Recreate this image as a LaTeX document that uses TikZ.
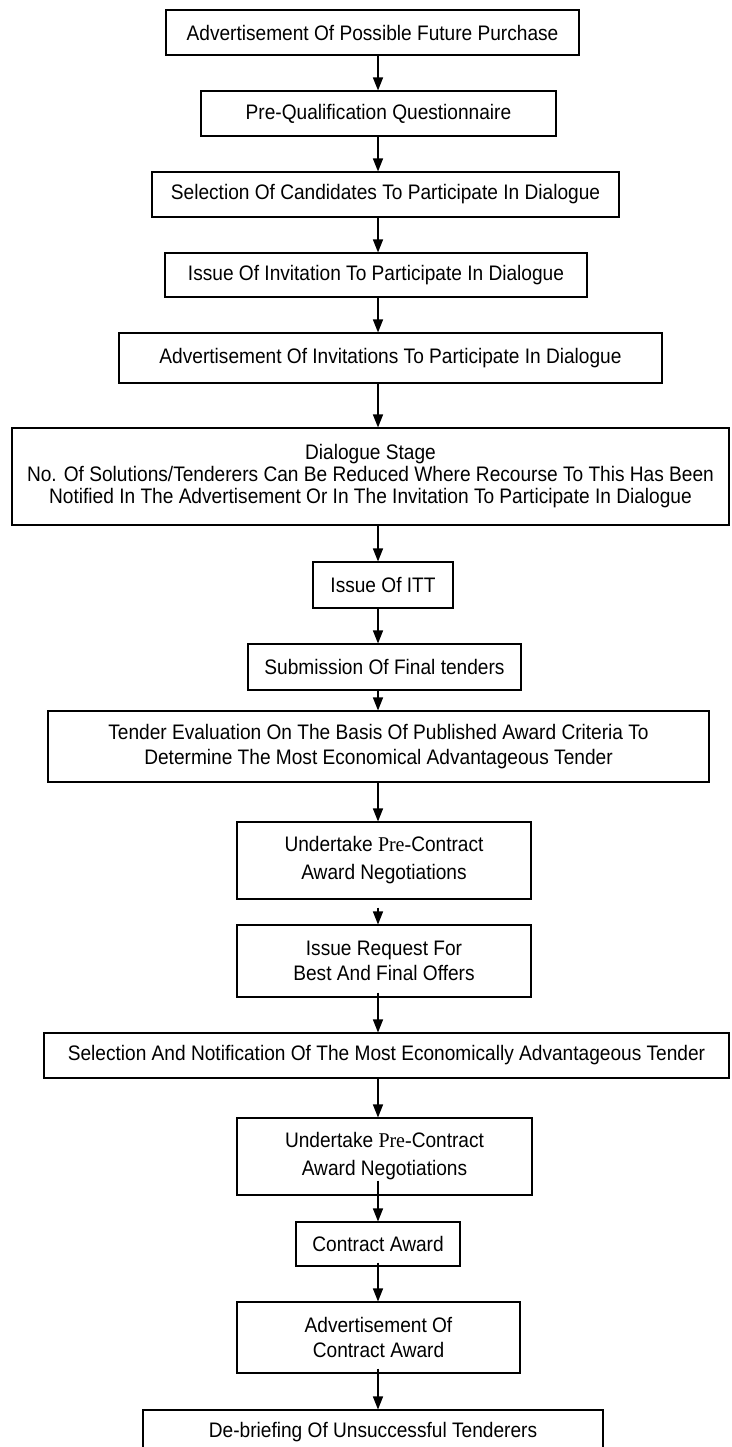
\documentclass[tikz,border=0pt]{standalone}
\usepackage{fontspec}
\setmainfont[FakeStretch=0.91]{Liberation Sans}
\newfontfamily\preserif[FakeStretch=0.95]{Liberation Serif}
\usepackage{tikz}
\usetikzlibrary{arrows.meta}

\begin{document}
\begin{tikzpicture}[
  x=1pt, y=-1pt,
  font=\fontsize{21}{25}\selectfont,
  box/.style={draw, line width=1.1pt, rectangle, inner sep=0pt, align=center},
  arr/.style={-{Triangle[length=13pt,width=10pt]}, line width=1.4pt}
]
\useasboundingbox (0,0) rectangle (731,1447);
\coordinate (spine) at (378,0);

% Pre-qualification
\node[box, minimum width=413pt, minimum height=45pt] (adpurchase) at (372.5,32.5) {Advertisement Of Possible Future Purchase};
\node[box, minimum width=355pt, minimum height=45pt] (pqq) at (378.5,113.5) {Pre-Qualification Questionnaire};
\node[box, minimum width=467pt, minimum height=45pt] (selcand) at (385.5,194.5) {Selection Of Candidates To Participate In Dialogue};
\node[box, minimum width=422pt, minimum height=44pt] (issueinv) at (376,275) {Issue Of Invitation To Participate In Dialogue};
\node[box, minimum width=543pt, minimum height=50pt] (adinv) at (390.5,358) {Advertisement Of Invitations To Participate In Dialogue};

% Dialogue
\node[box, minimum width=717pt, minimum height=97pt, font=\fontsize{21}{22}\selectfont] (dialogue) at (370.5,476.5)
  {Dialogue Stage\\No. Of Solutions/Tenderers Can Be Reduced Where Recourse To This Has Been\\Notified In The Advertisement Or In The Invitation To Participate In Dialogue};

% Tenders
\node[box, minimum width=140pt, minimum height=46pt] (itt) at (383,585) {Issue Of ITT};
\node[box, minimum width=273pt, minimum height=46pt] (submission) at (384.5,667) {Submission Of Final tenders};
\node[box, minimum width=661pt, minimum height=71pt] (evaluation) at (378.5,746.5)
  {Tender Evaluation On The Basis Of Published Award Criteria To\\Determine The Most Economical Advantageous Tender};
\node[box, minimum width=294pt, minimum height=77pt, font=\fontsize{21}{28}\selectfont] (undertakeA) at (384,860.5)
  {Undertake {\preserif Pre-}Contract\\Award Negotiations};
\node[box, minimum width=294pt, minimum height=72pt] (bafo) at (384,961) {Issue Request For\\Best And Final Offers};
\node[box, minimum width=685pt, minimum height=45pt] (selnotif) at (386.5,1055.5)
  {Selection And Notification Of The Most Economically Advantageous Tender};

% Award
\node[box, minimum width=295pt, minimum height=77pt, font=\fontsize{21}{28}\selectfont] (undertakeB) at (384.5,1156.5)
  {Undertake {\preserif Pre-}Contract\\Award Negotiations};
\node[box, minimum width=164pt, minimum height=44pt] (award) at (378,1244) {Contract Award};
\node[box, minimum width=283pt, minimum height=71pt] (adaward) at (378.5,1337.5) {Advertisement Of\\Contract Award};
\node[box, minimum width=460pt, minimum height=45pt] (debrief) at (373,1432.5) {De-briefing Of Unsuccessful Tenderers};

% Arrows
\draw[arr] (adpurchase.south -| spine) -- (pqq.north -| spine);
\draw[arr] (pqq.south -| spine) -- (selcand.north -| spine);
\draw[arr] (selcand.south -| spine) -- (issueinv.north -| spine);
\draw[arr] (issueinv.south -| spine) -- (adinv.north -| spine);
\draw[arr] (adinv.south -| spine) -- (dialogue.north -| spine);
\draw[arr] (dialogue.south -| spine) -- (itt.north -| spine);
\draw[arr] (itt.south -| spine) -- (submission.north -| spine);
\draw[arr] (submission.south -| spine) -- (evaluation.north -| spine);
\draw[arr] (evaluation.south -| spine) -- (undertakeA.north -| spine);
\draw[arr] ([yshift=-8pt]undertakeA.south -| spine) -- (bafo.north -| spine);
\draw[arr] ([yshift=5pt]bafo.south -| spine) -- (selnotif.north -| spine);
\draw[arr] (selnotif.south -| spine) -- (undertakeB.north -| spine);
\draw[arr] ([yshift=15pt]undertakeB.south -| spine) -- (award.north -| spine);
\draw[arr] ([yshift=4pt]award.south -| spine) -- (adaward.north -| spine);
\draw[arr] ([yshift=5pt]adaward.south -| spine) -- (debrief.north -| spine);
\end{tikzpicture}
\end{document}
